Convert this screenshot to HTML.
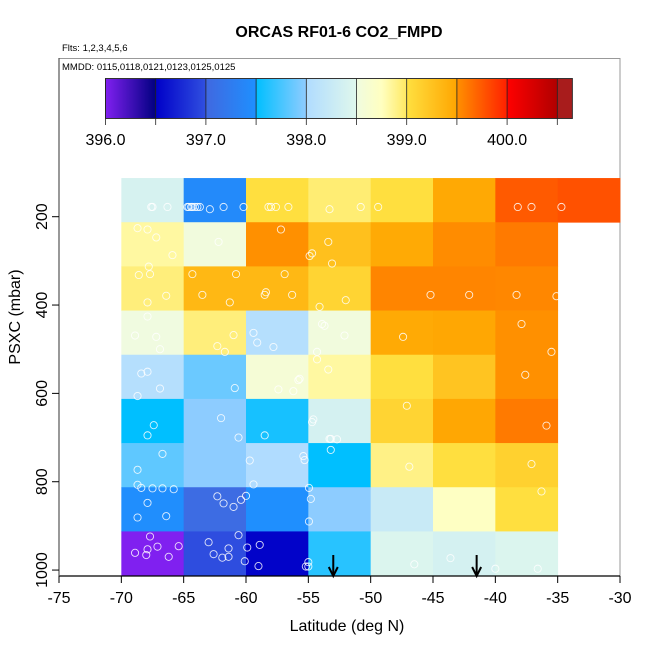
<!DOCTYPE html>
<html><head><meta charset="utf-8"><style>
body{margin:0;background:#fff;}
svg text{font-family:"Liberation Sans",sans-serif;}
</style></head><body>
<svg id="c" width="650" height="650" xmlns="http://www.w3.org/2000/svg">
<text x="339" y="37" text-anchor="middle" font-size="16" font-weight="bold">ORCAS RF01-6 CO2_FMPD</text>
<text x="62" y="51" font-size="9.5">Flts: 1,2,3,4,5,6</text>
<rect x="59" y="58.5" width="561" height="517.5" fill="none" stroke="#999" stroke-width="1"/>
<text x="62" y="70" font-size="9.5">MMDD: 0115,0118,0121,0123,0125,0125</text>
<g id="cbar"></g>
<g id="cells"></g>
<g id="pts"></g>
<g id="axes"></g>
<text x="347" y="631" text-anchor="middle" font-size="16">Latitude (deg N)</text>
<text transform="translate(20,317) rotate(-90)" text-anchor="middle" font-size="16">PSXC (mbar)</text>
</svg>
<script>
const lonEdges=[-70,-65,-60,-55,-50,-45,-40,-35,-30];
const presCenters=[162.5,262.5,362.5,462.5,562.5,662.5,762.5,862.5,962.5];
const co2Grid=[
[398.4,397.42,399.01,398.95,399.01,399.47,399.74,399.78],
[398.83,398.52,399.5,399.27,399.46,399.52,399.6,null],
[398.93,399.34,399.34,399.1,399.55,399.55,399.54,null],
[398.5,398.93,398.05,398.52,399.46,399.48,399.5,null],
[398.05,397.87,398.58,398.83,399.01,399.24,399.5,null],
[397.5,397.99,397.58,398.38,399.1,399.48,399.6,null],
[397.83,397.99,398.0,397.5,398.9,399.01,399.13,null],
[397.47,397.05,397.49,397.99,398.25,398.73,399.01,null],
[396.0,396.98,396.52,397.64,398.45,398.38,398.45,null]];
const ptLon=[-67.6,-67.5,-66.3,-64.7,-64.6,-64.4,-64.3,-64.1,-63.9,-63.7,-62.9,-61.8,-60.2,-58.2,-58.0,-57.6,-56.6,-53.3,-50.8,-49.4,-38.2,-37.1,-34.7,
-68.7,-67.9,-67.2,-65.9,-67.8,-62.2,-57.2,-53.4,-54.7,-54.9,-53.1,
-68.6,-67.7,-67.9,-66.4,-64.3,-60.8,-63.5,-61.3,-56.9,-58.4,-58.5,-56.3,-52.0,-54.1,-45.2,-42.1,-38.3,-35.1,
-67.9,-68.9,-67.2,-66.9,-61.0,-62.3,-61.7,-59.4,-59.1,-57.8,-53.9,-53.7,-52.1,-54.3,-47.4,-37.9,-35.5,
-68.4,-67.9,-66.9,-68.7,-60.9,-55.8,-55.7,-57.4,-56.2,-54.3,-53.4,-37.6,
-67.4,-67.9,-62.0,-60.6,-58.5,-54.6,-54.7,-53.3,-53.2,-52.7,-47.1,-35.9,
-66.7,-68.7,-68.7,-68.4,-67.5,-66.7,-65.8,-59.7,-55.4,-55.3,-59.4,-53.2,-46.9,-37.1,
-67.9,-68.7,-66.4,-62.3,-61.8,-61.0,-60.4,-60.0,-54.95,-54.8,-54.95,-36.3,
-67.7,-68.9,-68.0,-67.9,-67.1,-66.2,-65.4,-63.0,-62.6,-61.9,-61.4,-61.4,-60.6,-59.9,-58.9,-60.1,-59.0,-55.0,-55.2,-55.0,-46.5,-43.6,-40.0,-36.6];
const ptPres=[178,178,178,178,178,178,178,178,178,178,183,178,178,178,178,178,178,183,178,178,178,178,178,
226,229,247,287,313,257,229,257,283,289,306,
332,330,394,379,330,330,377,394,330,371,377,377,389,404,377,377,377,380,
426,469,472,500,468,493,506,463,485,495,443,447,469,506,472,443,506,
555,551,589,606,588,570,567,591,595,523,546,558,
672,695,656,700,695,659,665,703,703,704,628,673,
737,773,807,814,815,815,817,752,742,751,806,728,766,760,
848,881,878,833,849,857,841,832,814,839,890,822,
924,961,966,953,947,970,946,937,964,972,970,951,921,949,943,980,991,982,992,992,987,973,997,997];
const arrowLon=[-53,-41.5];
const xTicks=[-75,-70,-65,-60,-55,-50,-45,-40,-35,-30];
const yTicks=[200,400,600,800,1000];
const cbTicks=[396.0,396.5,397.0,397.5,398.0,398.5,399.0,399.5,400.0,400.5];
const cbLabels=["396.0","397.0","398.0","399.0","400.0"];

const NS="http://www.w3.org/2000/svg";
const X=v=>59+(v+75)*12.467;
const Y=p=>216.7+(p-200)*0.4417;
const CB=v=>105.5+(v-396)*100.4;
function mk(t,a,parent){const e=document.createElementNS(NS,t);for(const k in a)e.setAttribute(k,a[k]);parent.appendChild(e);return e;}
const segs=[[396,396.5,["#8020f0","#000080"]],[396.5,397,["#0000c8","#3050e0"]],[397,397.5,["#4068e0","#1e90ff"]],
[397.5,398,["#00bfff","#90ccff"]],[398,398.5,["#b0dcff","#e0f8ec"]],[398.5,399,["#f0fbe0","#ffffc0","#ffe860"]],
[399,399.5,["#ffe040","#ffa500"]],[399.5,400,["#ff9000","#ff2000"]],[400,400.5,["#ff0000","#b00000"]],[400.5,401,["#a81c1c","#a81c1c"]]];
function hx(c){return [1,3,5].map(i=>parseInt(c.substr(i,2),16));}
function col(v){
  let s=segs.find(s=>v>=s[0]&&v<s[1])||(v<396?segs[0]:segs[segs.length-1]);
  let t=Math.max(0,Math.min(1,(v-s[0])/(s[1]-s[0])));const cs=s[2];const n=cs.length-1;
  let i=Math.min(n-1,Math.floor(t*n));let u=t*n-i;const a=hx(cs[i]),b=hx(cs[i+1]);
  return "rgb("+a.map((x,k)=>Math.round(x+(b[k]-x)*u)).join(",")+")";
}
const cb=document.getElementById('cbar');
const defs=mk('defs',{},cb);
segs.forEach((s,i)=>{
  const hi=Math.min(s[1],400.65);
  const g=mk('linearGradient',{id:'g'+i,x1:0,x2:1,y1:0,y2:0},defs);
  s[2].forEach((c,j)=>mk('stop',{offset:j/(s[2].length-1),'stop-color':c},g));
  const r=mk('rect',{x:CB(s[0]),y:78.5,width:CB(hi)-CB(s[0])+0.3,height:40,fill:'url(#g'+i+')'},cb);
  
  
});
mk('rect',{x:CB(396),y:78.5,width:CB(400.65)-CB(396),height:40,fill:'none',stroke:'#333','stroke-width':1},cb);
cbTicks.forEach(v=>{mk('line',{x1:CB(v),x2:CB(v),y1:78.5,y2:125,stroke:'#222','stroke-width':0.8},cb);});
cbLabels.forEach(l=>{const t=mk('text',{x:CB(parseFloat(l)),y:145,'text-anchor':'middle','font-size':16},cb);t.textContent=l;
  
  });
const cg=document.getElementById('cells');
co2Grid.forEach((row,r)=>row.forEach((v,c)=>{if(v==null)return;
  const y0=Y(presCenters[r]-50),y1=Y(presCenters[r]+50);
  const e=mk('rect',{x:X(lonEdges[c]),y:y0,width:X(lonEdges[c+1])-X(lonEdges[c])+0.4,height:y1-y0+0.4,fill:col(v)},cg);
  
  
}));
const pg=document.getElementById('pts');
ptLon.forEach((l,i)=>{const e=mk('circle',{cx:X(l),cy:Y(ptPres[i]),r:3.6,fill:'none',stroke:'#fff','stroke-width':0.9,'stroke-opacity':0.85},pg);
  
  });
const ag=document.getElementById('axes');
mk('line',{x1:59,x2:620,y1:576,y2:576,stroke:'#000','stroke-width':1.2},ag);
mk('line',{x1:59,x2:59,y1:58,y2:576,stroke:'#555','stroke-width':1.2},ag);
xTicks.forEach(v=>{mk('line',{x1:X(v),x2:X(v),y1:576,y2:583,stroke:'#000'},ag);
  const t=mk('text',{x:X(v),y:603,'text-anchor':'middle','font-size':16},ag);t.textContent=v;
  
  });
yTicks.forEach(v=>{mk('line',{x1:52,x2:59,y1:Y(v),y2:Y(v),stroke:'#000'},ag);
  const t=mk('text',{transform:'translate(47,'+Y(v)+') rotate(-90)','text-anchor':'middle','font-size':16},ag);t.textContent=v;
  
  });
arrowLon.forEach(l=>{const g=mk('g',{},ag);
  
  
  mk('line',{x1:X(l),x2:X(l),y1:555,y2:576,stroke:'#000','stroke-width':2},g);
  mk('path',{d:`M${X(l)-4.5},567 L${X(l)},576 L${X(l)+4.5},567`,fill:'none',stroke:'#000','stroke-width':2},g);});
</script>
</body></html>
